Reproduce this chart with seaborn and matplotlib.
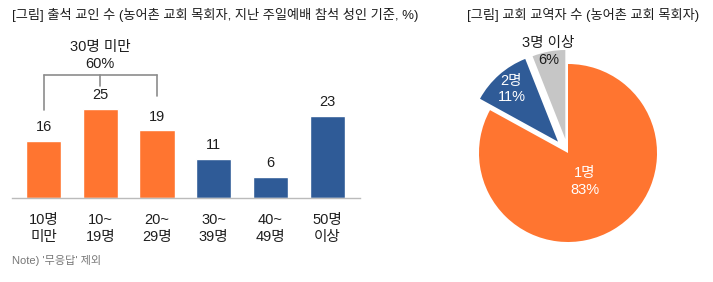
import matplotlib
matplotlib.use("Agg")
import matplotlib.pyplot as plt
import seaborn as sns
import pandas as pd
import numpy as np

sns.set_theme(style="white")
plt.rcParams['font.family'] = ['Liberation Sans', 'Noto Sans CJK KR', 'DejaVu Sans']

# ---- data ----
bar_categories = ["10명\n미만", "10~\n19명", "20~\n29명", "30~\n39명", "40~\n49명", "50명\n이상"]
bar_values = [16, 25, 19, 11, 6, 23]
bar_groups = ["under30", "under30", "under30", "over30", "over30", "over30"]
bracket_label = "30명 미만\n60%"

pie_labels = ["1명", "2명", "3명 이상"]
pie_values = [83, 11, 6]

title_left = "[그림] 출석 교인 수 (농어촌 교회 목회자, 지난 주일예배 참석 성인 기준, %)"
title_right = "[그림] 교회 교역자 수 (농어촌 교회 목회자)"
note = "Note) '무응답' 제외"

ORANGE = "#FF7530"
BLUE = "#2F5B97"
GRAY = "#C6C6C6"
TXT = "#1E1E1E"

W, H = 713, 282
fig = plt.figure(figsize=(W / 100, H / 100), dpi=100)

def px_axes(x0, y_top, w, h):
    return fig.add_axes([x0 / W, (H - y_top - h) / H, w / W, h / H])

# ---- bar chart ----
ymax = 50
ax = px_axes(12, 198 - 3.56 * ymax, 348, 3.56 * ymax)
df = pd.DataFrame({"cat": bar_categories, "val": bar_values, "grp": bar_groups})
sns.barplot(data=df, x="cat", y="val", hue="grp",
            palette={"under30": ORANGE, "over30": BLUE},
            width=0.62, dodge=False, legend=False, ax=ax, saturation=1)
ax.set_xlim(-0.556, 5.58)
ax.set_ylim(0, ymax)
for c in ax.containers:
    for bar in c:
        h = bar.get_height()
        if np.isnan(h):
            continue
        ax.annotate(f"{int(round(h))}", (bar.get_x() + bar.get_width() / 2, h),
                    xytext=(0, 4.8), textcoords="offset points",
                    ha="center", va="bottom", fontsize=10.5, color=TXT)
for s in ["top", "right", "left"]:
    ax.spines[s].set_visible(False)
ax.spines["bottom"].set_color("#BBBBBB")
ax.spines["bottom"].set_linewidth(1.0)
ax.set_yticks([])
ax.set_xlabel("")
ax.set_ylabel("")
ax.tick_params(axis="x", length=0, pad=11, labelsize=10.5, colors=TXT)
for t in ax.get_xticklabels():
    t.set_linespacing(1.25)

# bracket over first three bars
bc = "#8C8C8C"
top_y = 34.5
ax.plot([0, 2], [top_y, top_y], color=bc, lw=1.2, clip_on=False)
ax.plot([0, 0], [top_y, 24.7], color=bc, lw=1.2, clip_on=False)
ax.plot([1, 1], [top_y, 31.5], color=bc, lw=1.2, clip_on=False)
ax.plot([2, 2], [top_y, 28.7], color=bc, lw=1.2, clip_on=False)
ax.text(1, 40.0, bracket_label, ha="center", va="center", fontsize=10.5,
        color=TXT, linespacing=1.3)

fig.text(12 / W, 1 - 15 / H, title_left, ha="left", va="center", fontsize=9.5, color=TXT)
fig.text(12 / W, 1 - 260 / H, note, ha="left", va="center", fontsize=8, color="#777777")

# ---- pie chart ----
R = 89
half = 1.3
pax = px_axes(568 - half * R, 153 - half * R, 2 * half * R, 2 * half * R)
explode = [0, 0.17, 0.16]
wedges, _ = pax.pie(pie_values, colors=[ORANGE, BLUE, GRAY], startangle=90,
                    counterclock=False, explode=explode,
                    wedgeprops=dict(linewidth=0))
pax.set_xlim(-half, half)
pax.set_ylim(-half, half)
pax.set_aspect("equal")
pax.axis("off")

dists = [0.37, 0.79, 1.0]
txt_colors = ["white", "white", TXT]
for w, lab, v, d, tc in zip(wedges, pie_labels, pie_values, dists, txt_colors):
    ang = np.deg2rad((w.theta1 + w.theta2) / 2)
    cx, cy = w.center
    pax.text(cx + d * np.cos(ang), cy + d * np.sin(ang), f"{lab}\n{v}%",
             ha="center", va="center", fontsize=10.5, color=tc, linespacing=1.25)

fig.text(583 / W, 1 - 15 / H, title_right, ha="center", va="center", fontsize=9.5, color=TXT)

fig.savefig("out.png", dpi=100)
